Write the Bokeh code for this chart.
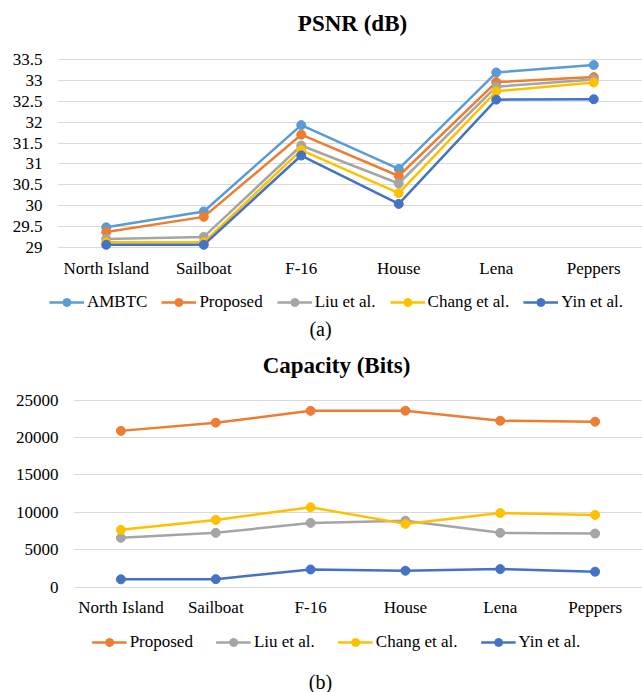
from bokeh.plotting import figure
from bokeh.models import FixedTicker, Legend, Label
from bokeh.layouts import column
from bokeh.embed import file_html
from bokeh.resources import INLINE

images = ["North Island", "Sailboat", "F-16", "House", "Lena", "Peppers"]

# PSNR (dB)
psnr_ambtc = [29.48, 29.86, 31.93, 30.88, 33.19, 33.37]
psnr_proposed = [29.37, 29.73, 31.70, 30.71, 32.96, 33.08]
psnr_liu = [29.20, 29.25, 31.44, 30.53, 32.85, 33.02]
psnr_chang = [29.12, 29.12, 31.33, 30.30, 32.74, 32.95]
psnr_yin = [29.06, 29.06, 31.20, 30.04, 32.54, 32.55]
psnr_ticks = [29, 29.5, 30, 30.5, 31, 31.5, 32, 32.5, 33, 33.5]

# Capacity (Bits)
cap_proposed = [20900, 22000, 23580, 23600, 22250, 22130]
cap_liu = [6580, 7250, 8580, 8880, 7250, 7160]
cap_chang = [7650, 8980, 10670, 8450, 9900, 9650]
cap_yin = [1030, 1050, 2350, 2180, 2400, 2050]
cap_ticks = [0, 5000, 10000, 15000, 20000, 25000]

C_AMBTC = "#5B9BD5"
C_PROP = "#ED7D31"
C_LIU = "#A5A5A5"
C_CHANG = "#FFC000"
C_YIN = "#4472C4"

FONT = "Liberation Serif"
W = 642


def no_align(p):
    try:
        p.frame_align = False
    except Exception:
        pass


def blank_panel(height, left=0):
    f = figure(
        width=W, height=height, x_range=(left, W), y_range=(0, height),
        output_backend="svg", toolbar_location=None,
        x_axis_location=None, y_axis_location=None,
        min_border_left=left, min_border_right=0,
        min_border_top=0, min_border_bottom=0,
    )
    no_align(f)
    f.grid.visible = False
    f.outline_line_color = None
    f.background_fill_color = "white"
    f.border_fill_color = "white"
    return f


def title_panel(text, height, cx, cy):
    f = blank_panel(height)
    f.add_layout(Label(x=cx, y=height - cy, text=text, text_align="center",
                       text_baseline="middle", text_font=FONT, text_font_size="23px",
                       text_font_style="bold", text_color="#000000"))
    return f


def chart(height, y_range, ticks, series, left, top, label_standoff):
    p = figure(
        x_range=images, y_range=y_range, width=W, height=height,
        output_backend="svg", toolbar_location=None,
        min_border_left=left, min_border_right=0,
        min_border_top=top, min_border_bottom=30,
    )
    no_align(p)
    p.outline_line_color = None
    p.background_fill_color = "white"
    p.border_fill_color = "white"

    p.xgrid.grid_line_color = None
    p.ygrid.grid_line_color = "#D9D9D9"
    p.ygrid.grid_line_width = 1

    p.yaxis.ticker = FixedTicker(ticks=ticks)
    p.yaxis.major_label_overrides = {t: f"{t:g}" for t in ticks}
    for ax in (p.xaxis, p.yaxis):
        ax.axis_line_color = None
        ax.major_tick_line_color = None
        ax.minor_tick_line_color = None
        ax.major_tick_out = 0
        ax.major_tick_in = 0
        ax.minor_tick_out = 0
        ax.major_label_text_font = FONT
        ax.major_label_text_font_size = "17px"
        ax.major_label_text_color = "#000000"
    p.yaxis.major_label_standoff = 15
    p.xaxis.major_label_standoff = label_standoff

    for name, vals, color in series:
        p.line(images, vals, line_color=color, line_width=2.5)
        p.scatter(images, vals, size=9, fill_color=color, line_color=color)
    return p


def legend_panel(height, series, spacing, caption, cap_cy, margin):
    lf = blank_panel(height, left=30)
    items = []
    for name, vals, color in series:
        xs = list(range(len(vals)))
        r1 = lf.line(xs, vals, line_color=color, line_width=2.5, visible=False)
        r2 = lf.scatter(xs, vals, size=9, fill_color=color, line_color=color, visible=False)
        items.append((name, [r1, r2]))
    legend = Legend(items=items, orientation="horizontal", location="top_center")
    legend.label_text_font = FONT
    legend.label_text_font_size = "17px"
    legend.label_text_color = "#000000"
    legend.glyph_width = 35
    legend.glyph_height = 20
    legend.label_standoff = 3
    legend.spacing = spacing
    legend.padding = 0
    legend.margin = margin
    legend.border_line_color = None
    legend.background_fill_alpha = 0
    legend.click_policy = "none"
    legend.inactive_fill_alpha = 0
    lf.add_layout(legend)
    lf.add_layout(Label(x=320, y=height - cap_cy, text=caption, text_align="center",
                        text_baseline="middle", text_font=FONT,
                        text_font_size="20px", text_color="#000000"))
    return lf


psnr_series = [("AMBTC", psnr_ambtc, C_AMBTC), ("Proposed", psnr_proposed, C_PROP),
               ("Liu et al.", psnr_liu, C_LIU), ("Chang et al.", psnr_chang, C_CHANG),
               ("Yin et al.", psnr_yin, C_YIN)]
cap_series = [("Proposed", cap_proposed, C_PROP), ("Liu et al.", cap_liu, C_LIU),
              ("Chang et al.", cap_chang, C_CHANG), ("Yin et al.", cap_yin, C_YIN)]

t1 = title_panel("PSNR (dB)", 40, 352, 23)
p1 = chart(241, (28.9, 33.55), psnr_ticks, psnr_series, 57, 17, 7)
l1 = legend_panel(60, psnr_series, 14, "(a)", 47, 11)
t2 = title_panel("Capacity (Bits)", 40, 336, 24)
p2 = chart(240, (-600, 25100), cap_ticks, cap_series, 73, 18, 6)
l2 = legend_panel(71, cap_series, 23, "(b)", 60, 11)

layout = column(t1, p1, l1, t2, p2, l2, spacing=0)
open("out.html", "w").write(file_html(layout, INLINE))
